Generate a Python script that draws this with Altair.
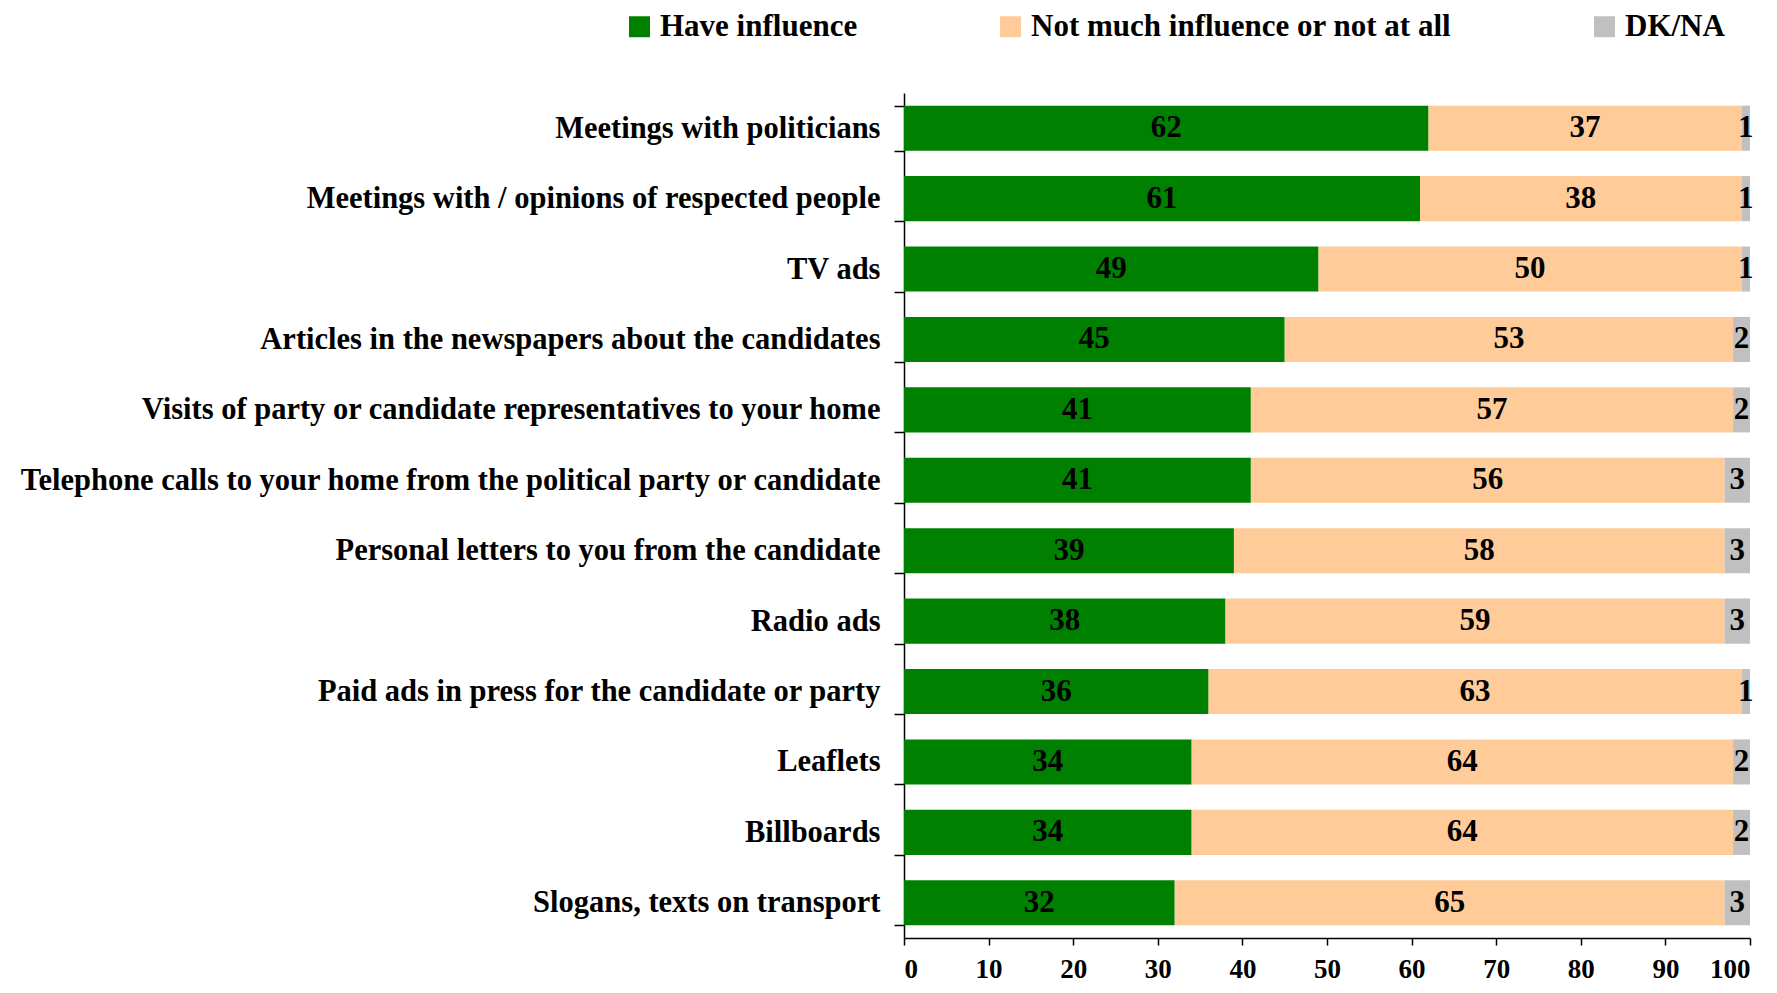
import altair as alt
import pandas as pd

categories = [
    "Meetings with politicians",
    "Meetings with / opinions of respected people",
    "TV ads",
    "Articles in the newspapers about the candidates",
    "Visits of party or candidate representatives to your home",
    "Telephone calls to your home from the political party or candidate",
    "Personal letters to you from the candidate",
    "Radio ads",
    "Paid ads in press for the candidate or party",
    "Leaflets",
    "Billboards",
    "Slogans, texts on transport",
]
have_influence = [62, 61, 49, 45, 41, 41, 39, 38, 36, 34, 34, 32]
not_much = [37, 38, 50, 53, 57, 56, 58, 59, 63, 64, 64, 65]
dk_na = [1, 1, 1, 2, 2, 3, 3, 3, 1, 2, 2, 3]

series_names = ["Have influence", "Not much influence or not at all", "DK/NA"]
series_colors = ["#008000", "#FFCC99", "#C0C0C0"]

rows = []
for i, c in enumerate(categories):
    for k, (name, vals) in enumerate(zip(series_names, [have_influence, not_much, dk_na])):
        rows.append({"cat": c, "series": name, "order": k, "value": vals[i]})
df = pd.DataFrame(rows)

FONT = "Liberation Serif"

base = alt.Chart(df).transform_stack(
    stack="value", groupby=["cat"], as_=["x0", "x1"], sort=[alt.SortField("order", "ascending")]
).transform_calculate(mid="(datum.x0 + datum.x1) / 2")

y_enc = alt.Y(
    "cat:N",
    sort=categories,
    title=None,
    scale=alt.Scale(paddingInner=0.36, paddingOuter=0.18),
    axis=alt.Axis(
        labelFont=FONT, labelFontSize=30.5, labelFontWeight="bold", labelColor="black",
        labelLimit=1200, labelPadding=14, tickSize=10, tickBand="extent",
        tickColor="black", tickWidth=1.5, domainColor="black", domainWidth=1.5,
        grid=False,
    ),
)

bars = base.mark_bar().encode(
    x=alt.X(
        "x0:Q",
        title=None,
        scale=alt.Scale(domain=[0, 100], nice=False),
        axis=alt.Axis(
            values=list(range(0, 101, 10)), labelFont=FONT, labelFontSize=27,
            labelFontWeight="bold", labelColor="black", labelPadding=11,
            tickSize=7, tickColor="black", tickWidth=1.5, domainColor="black",
            domainWidth=1.5, grid=False,
        ),
    ),
    x2="x1:Q",
    y=y_enc,
    color=alt.Color(
        "series:N",
        sort=series_names,
        scale=alt.Scale(domain=series_names, range=series_colors),
        legend=alt.Legend(
            title=None, orient="none", direction="horizontal", legendX=-280, legendY=-82,
            symbolType="square", symbolSize=441, symbolStrokeWidth=0,
            labelFont=FONT, labelFontSize=31, labelFontWeight="bold", labelColor="black",
            labelOffset=5, columnPadding=137, padding=0, labelLimit=1000,
        ),
    ),
    order=alt.Order("order:Q"),
)

labels = base.mark_text(
    font=FONT, fontSize=31, fontWeight="bold", color="black", align="center", baseline="middle"
).encode(
    x="mid:Q",
    y=alt.Y("cat:N", sort=categories),
    text="value:Q",
)

chart = alt.layer(bars, labels).properties(
    width=846,
    height=845,
    padding={"left": 896, "top": 85, "right": 17, "bottom": 47},
    autosize=alt.AutoSizeParams(type="none"),
).configure_view(stroke=None)

chart.save("out.html", embed_options={"renderer": "svg", "actions": False})
